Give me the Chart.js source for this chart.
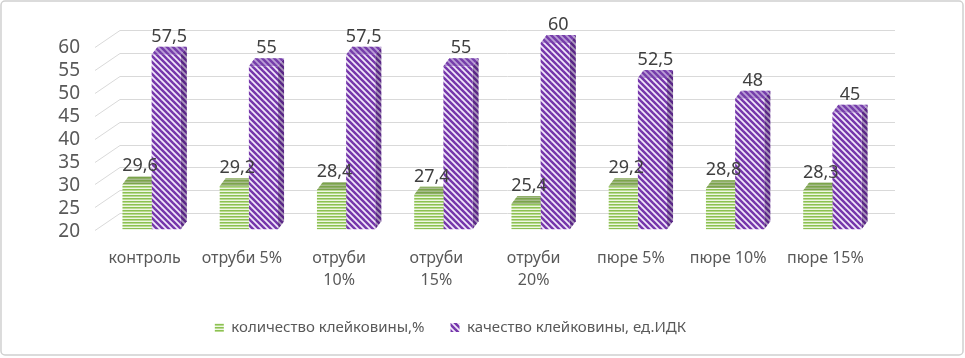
<!DOCTYPE html>
<html><head><meta charset="utf-8">
<script src="https://cdn.jsdelivr.net/npm/chart.js@4/dist/chart.umd.min.js"></script>
<style>html,body{margin:0;padding:0;background:#fff}#wrap{position:relative;width:965px;height:358px}canvas{display:block}</style>
</head><body><div id="wrap"><canvas id="c" width="965" height="358"></canvas></div>
<script>
const categories = ['контроль', 'отруби 5%', ['отруби', '10%'], ['отруби', '15%'], ['отруби', '20%'], 'пюре 5%', 'пюре 10%', 'пюре 15%'];
const seriesNames = ['количество клейковины,%', 'качество клейковины, ед.ИДК'];
const glutenAmount = [29.6, 29.2, 28.4, 27.4, 25.4, 29.2, 28.8, 28.3];
const glutenQuality = [57.5, 55, 57.5, 55, 60, 52.5, 48, 45];
const yTickValues = [20, 25, 30, 35, 40, 45, 50, 55, 60];

const FONT = "'Noto Sans', 'DejaVu Sans', sans-serif";
const DX = 6, DY = 8;

function greenPattern() {
  const c = document.createElement('canvas'); c.width = 4; c.height = 3;
  const g = c.getContext('2d');
  const rows = ['#8cc152', '#b9da90', '#eef6e4'];
  rows.forEach((col, i) => { g.fillStyle = col; g.fillRect(0, i, 4, 1); });
  return g.createPattern(c, 'repeat');
}
function purplePattern() {
  const s = 6;
  const c = document.createElement('canvas'); c.width = s; c.height = s;
  const g = c.getContext('2d');
  g.fillStyle = '#f1e8fa'; g.fillRect(0, 0, s, s);
  g.strokeStyle = '#7536ab'; g.lineWidth = 2.5;
  for (let o = -s; o <= s; o += s) {
    g.beginPath(); g.moveTo(o - 1, -1); g.lineTo(o + s + 1, s + 1); g.stroke();
  }
  return g.createPattern(c, 'repeat');
}
const ctx0 = document.getElementById('c').getContext('2d');
const gPat = greenPattern();
const pPat = purplePattern();

const threeD = {
  id: 'threeD',
  beforeDatasetsDraw(chart) {
    const ctx = chart.ctx, ys = chart.scales.y, ca = chart.chartArea;
    ctx.save();
    ctx.strokeStyle = '#d9d9d9'; ctx.lineWidth = 1;
    yTickValues.forEach(v => {
      const yf = Math.round(ys.getPixelForValue(v)) + 0.5;
      ctx.beginPath();
      ctx.moveTo(ca.left - 8, yf);
      ctx.lineTo(ca.left + 17, yf - 17);
      ctx.lineTo(ca.right + 14, yf - 17);
      ctx.stroke();
    });
    chart.data.datasets.forEach((ds, di) => {
      const meta = chart.getDatasetMeta(di);
      meta.data.forEach(bar => {
        const l = bar.x - bar.width / 2, r = bar.x + bar.width / 2, t = bar.y, b = bar.base;
        const pat = di === 0 ? gPat : pPat;
        ctx.beginPath();
        ctx.moveTo(r, t); ctx.lineTo(r + DX, t - DY); ctx.lineTo(r + DX, b - DY); ctx.lineTo(r, b); ctx.closePath();
        ctx.fillStyle = pat; ctx.fill();
        ctx.fillStyle = di === 0 ? 'rgba(40,80,10,0.35)' : 'rgba(40,10,70,0.35)'; ctx.fill();
        ctx.beginPath();
        ctx.moveTo(l, t); ctx.lineTo(l + DX, t - DY); ctx.lineTo(r + DX, t - DY); ctx.lineTo(r, t); ctx.closePath();
        ctx.fillStyle = pat; ctx.fill();
        ctx.fillStyle = di === 0 ? 'rgba(110,140,70,0.55)' : 'rgba(120,70,170,0.45)'; ctx.fill();
      });
    });
    ctx.restore();
  },
  afterDatasetsDraw(chart) {
    const ctx = chart.ctx;
    ctx.save();
    ctx.font = '18px ' + FONT; ctx.fillStyle = '#404040';
    ctx.textAlign = 'center'; ctx.textBaseline = 'alphabetic';
    chart.data.datasets.forEach((ds, di) => {
      chart.getDatasetMeta(di).data.forEach((bar, i) => {
        const txt = String(ds.data[i]).replace('.', ',');
        ctx.fillText(txt, bar.x + DX / 2, bar.y - DY - 5);
      });
    });
    ctx.restore();
  },
  afterDraw(chart) {
    const ctx = chart.ctx;
    ctx.save();
    ctx.strokeStyle = '#d0d0d0'; ctx.lineWidth = 1.5;
    ctx.beginPath();
    if (ctx.roundRect) ctx.roundRect(1, 1, 962, 354, 4); else ctx.rect(1, 1, 962, 354);
    ctx.stroke();
    ctx.restore();
  }
};

new Chart(ctx0, {
  type: 'bar',
  data: {
    labels: categories,
    datasets: [
      { label: seriesNames[0], data: glutenAmount, base: 20, backgroundColor: gPat, yAxisID: 'y2', barPercentage: 1, categoryPercentage: 0.6, clip: false },
      { label: seriesNames[1], data: glutenQuality, base: 20, backgroundColor: pPat, yAxisID: 'y2', barPercentage: 1, categoryPercentage: 0.6, clip: false }
    ]
  },
  options: {
    responsive: false,
    animation: false,
    layout: { padding: { top: 47, right: 64, bottom: 13, left: 0 } },
    plugins: {
      tooltip: { enabled: false },
      legend: {
        position: 'bottom',
        labels: { font: { family: FONT, size: 15 }, color: '#595959', boxWidth: 9, boxHeight: 9, padding: 26 }
      }
    },
    scales: {
      x: {
        grid: { display: false, drawTicks: false }, border: { display: false },
        ticks: { font: { family: FONT, size: 16, lineHeight: 1.4 }, color: '#595959', labelOffset: -7, padding: 17, maxRotation: 0, autoSkip: false },
        afterFit(s) { s.height = s.height - 15; }
      },
      y: {
        min: 20, max: 60,
        grid: { display: false, drawTicks: false }, border: { display: false },
        ticks: { stepSize: 5, autoSkip: false, font: { family: FONT, size: 19, lineHeight: 1 }, color: '#595959', padding: 23, labelOffset: 1 },
        afterFit(s) { s.width = 103; }
      },
      y2: {
        position: 'right', min: 19.78, max: 59.14,
        grid: { display: false, drawTicks: false }, border: { display: false },
        ticks: { display: false },
        afterFit(s) { s.width = 20; }
      }
    }
  },
  plugins: [threeD]
});
</script>
</body></html>
